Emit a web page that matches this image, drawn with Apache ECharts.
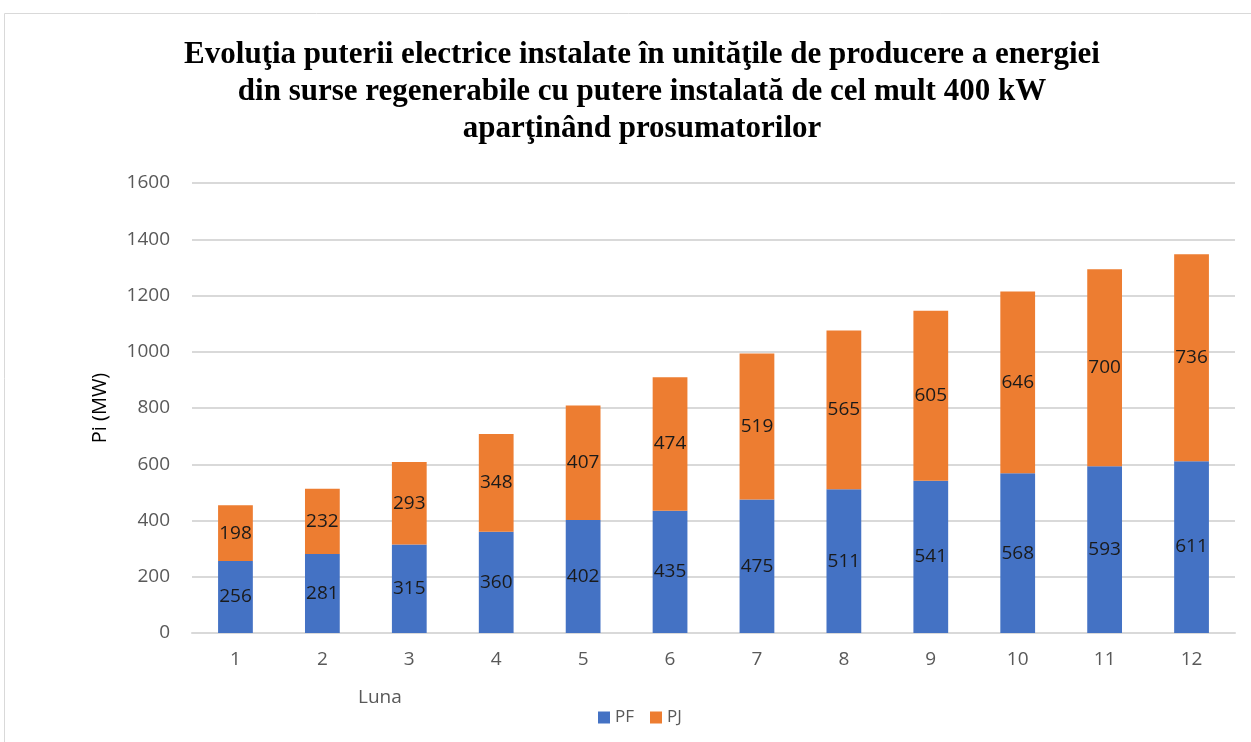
<!DOCTYPE html>
<html>
<head>
<meta charset="utf-8">
<script src="https://cdn.jsdelivr.net/npm/echarts@6/dist/echarts.min.js"></script>
<style>
  html, body { margin: 0; padding: 0; background: #fff; }
  #main { width: 1251px; height: 742px; }
</style>
</head>
<body>
<div id="main"></div>
<script>
var luni = ["1", "2", "3", "4", "5", "6", "7", "8", "9", "10", "11", "12"];
var pf = [256, 281, 315, 360, 402, 435, 475, 511, 541, 568, 593, 611];
var pj = [198, 232, 293, 348, 407, 474, 519, 565, 605, 646, 700, 736];

var chartDom = document.getElementById("main");
var myChart = echarts.init(chartDom);
var option;

var labelStyle = {
  show: true,
  position: "inside",
  color: "#1a1a1a",
  fontSize: 19,
  fontFamily: "Open Sans",
};

option = {
  animation: false,
  title: {
    text: "Evoluţia puterii electrice instalate în unităţile de producere a energiei\ndin surse regenerabile cu putere instalată de cel mult 400 kW\naparţinând prosumatorilor",
    left: 637,
    top: 31,
    textAlign: "center",
    textStyle: {
      fontFamily: "Liberation Serif",
      fontWeight: "bold",
      fontSize: 31,
      lineHeight: 37,
      color: "#000",
    },
  },
  graphic: [
    {
      type: "rect",
      shape: { x: 4.5, y: 13.5, width: 1400, height: 900 },
      style: { fill: "none", stroke: "#d9d9d9", lineWidth: 1 },
    },
    {
      type: "text",
      left: 358,
      top: 688,
      style: { text: "Luna", fontSize: 19, fontFamily: "Open Sans", fill: "#595959" },
    },
  ],
  legend: {
    data: ["PF", "PJ"],
    left: 593,
    top: 704,
    itemWidth: 12,
    itemHeight: 12,
    itemGap: 16,
    icon: "rect",
    textStyle: { fontSize: 17, fontFamily: "Open Sans", color: "#595959" },
  },
  grid: { left: 192, right: 16, top: 183, bottom: 109 },
  xAxis: {
    type: "category",
    data: luni,
    axisLine: { lineStyle: { color: "#d9d9d9", width: 2 } },
    axisTick: { show: false },
    axisLabel: { fontSize: 19, fontFamily: "Open Sans", color: "#595959", margin: 17 },
  },
  yAxis: {
    type: "value",
    min: 0,
    max: 1600,
    interval: 200,
    name: "Pi (MW)",
    nameLocation: "middle",
    nameGap: 82,
    nameTextStyle: { fontSize: 20, fontFamily: "Open Sans", color: "#000" },
    axisLine: { show: false },
    axisTick: { show: false },
    axisLabel: {
      fontSize: 19,
      fontFamily: "Open Sans",
      color: "#595959",
      margin: 22,
      formatter: function (v) { return String(v); },
    },
    splitLine: { lineStyle: { color: "#d9d9d9", width: 2 } },
  },
  series: [
    {
      name: "PF",
      type: "bar",
      stack: "total",
      data: pf,
      barWidth: "40%",
      itemStyle: { color: "#4472C4" },
      label: labelStyle,
    },
    {
      name: "PJ",
      type: "bar",
      stack: "total",
      data: pj,
      barWidth: "40%",
      itemStyle: { color: "#ED7D31" },
      label: labelStyle,
    },
  ],
};

option && myChart.setOption(option);
</script>
</body>
</html>
